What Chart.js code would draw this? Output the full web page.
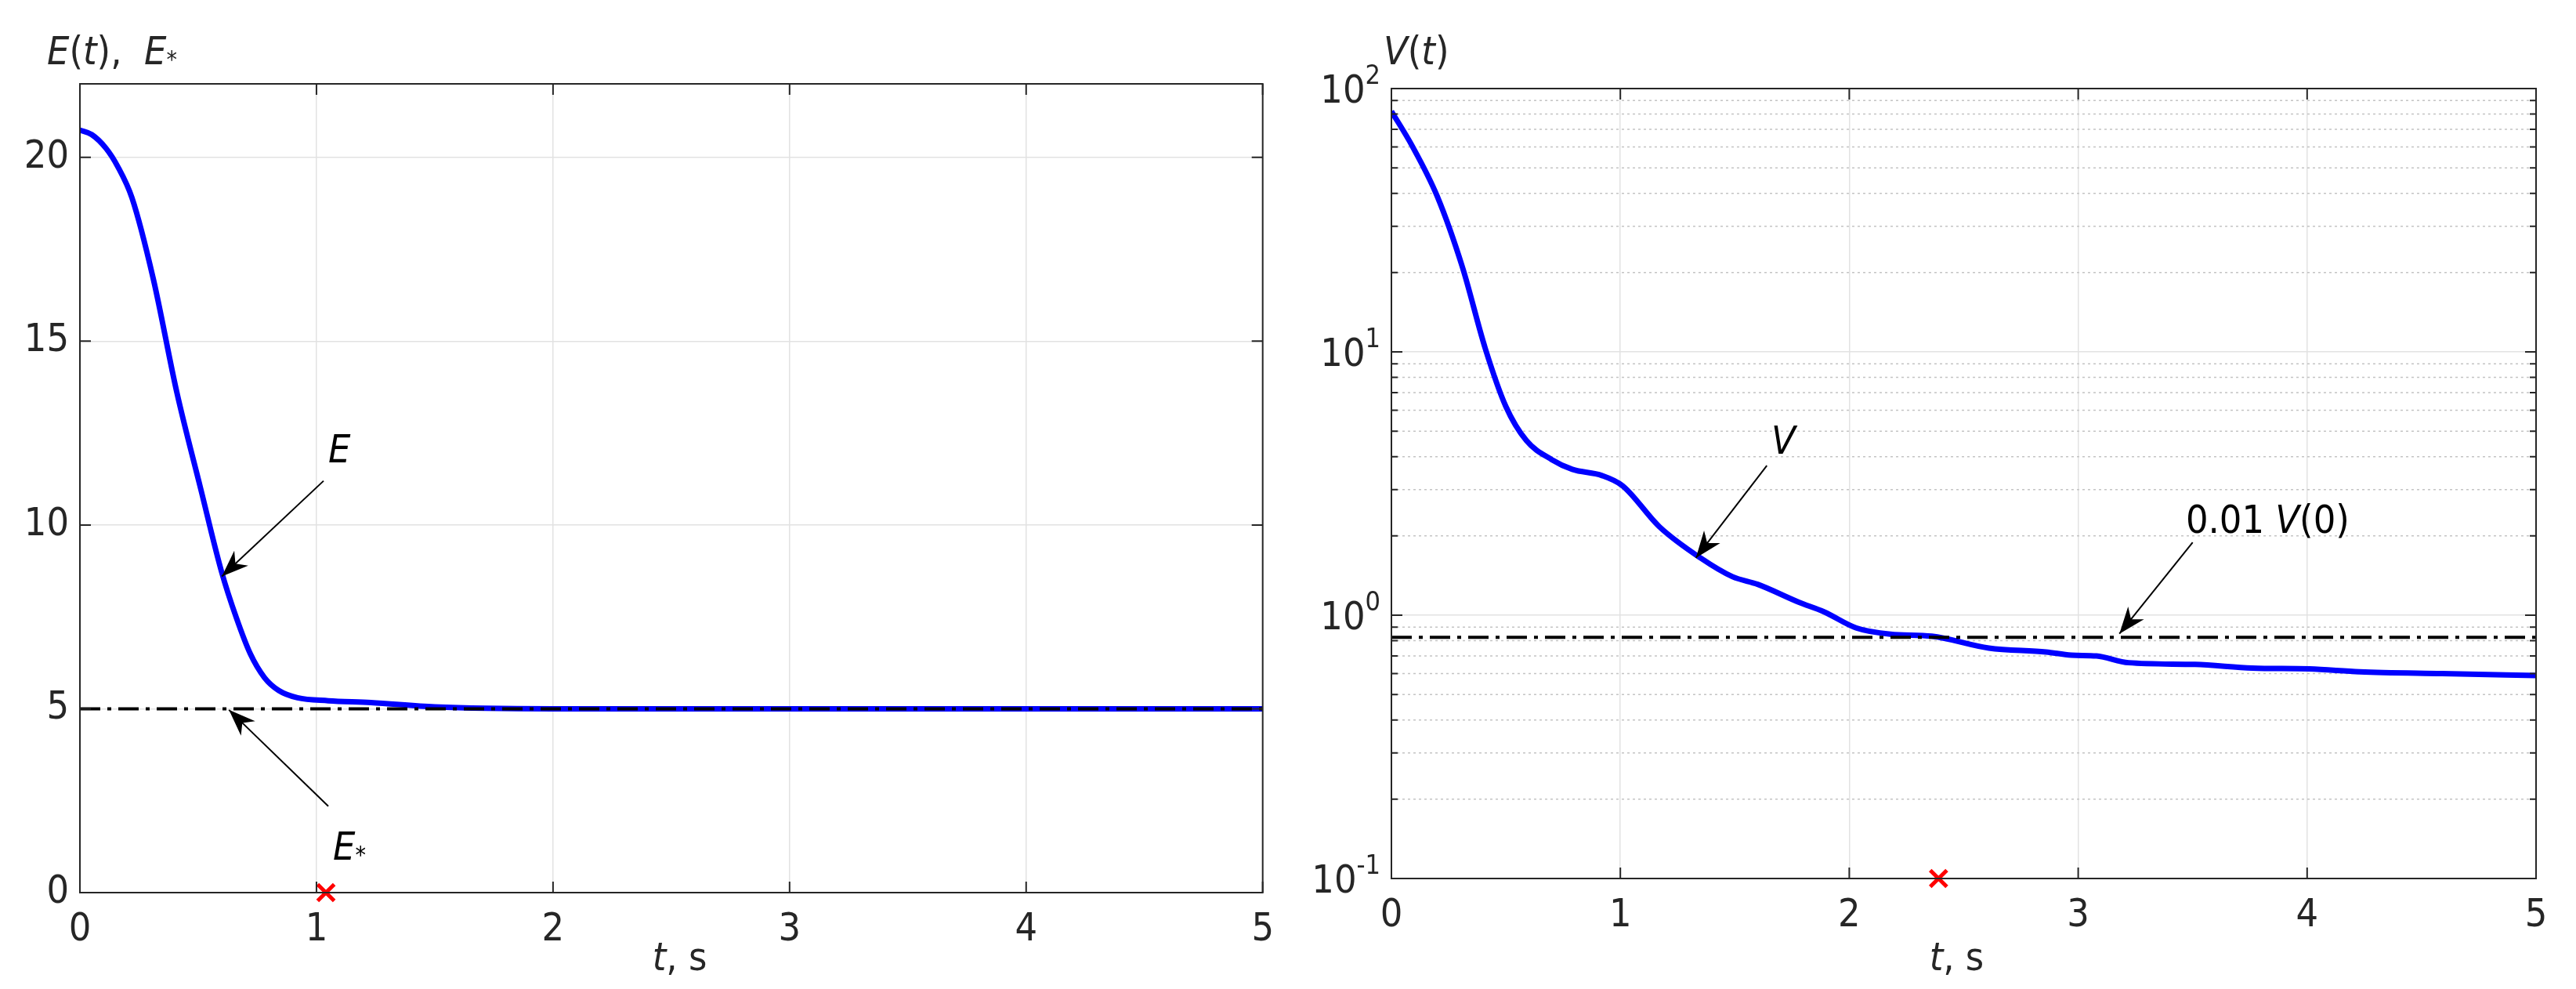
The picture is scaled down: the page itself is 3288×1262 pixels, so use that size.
<!DOCTYPE html>
<html>
<head>
<meta charset="utf-8">
<script src="https://cdn.jsdelivr.net/npm/chart.js@4"></script>
<style>
  body { margin: 0; background: #fff; width: 3288px; height: 1262px; overflow: hidden; }
  .panel { position: absolute; top: 0; width: 1644px; height: 1262px; }
</style>
</head>
<body>
<div class="panel" style="left:0"><canvas id="graficoE"></canvas></div>
<div class="panel" style="left:1644px"><canvas id="graficoV"></canvas></div>
<script>
// Dados
const tempoE = [0, 0.05, 0.11, 0.16, 0.22, 0.31, 0.41, 0.51, 0.6, 0.66, 0.72, 0.78, 0.84, 0.92, 1.05, 1.23, 1.5, 2, 3, 4, 5];
const valoresE = [20.74, 20.62, 20.25, 19.75, 18.9, 16.7, 13.6, 11.0, 8.7, 7.5, 6.5, 5.85, 5.5, 5.3, 5.22, 5.17, 5.05, 5.0, 5.0, 5.0, 5.0];
const eEstrela = 5;
const marcaE = [1.04, 0];

const tempoV = [0, 0.09, 0.2, 0.31, 0.41, 0.5, 0.59, 0.7, 0.79, 0.92, 1.01, 1.17, 1.35, 1.49, 1.6, 1.78, 1.89, 2.03,
  2.18, 2.36, 2.61, 2.86, 2.97, 3.08, 3.22, 3.51, 3.76, 4.01, 4.23, 4.59, 5];
const valoresV = [82, 60.7, 39, 21, 10.3, 6.2, 4.6, 3.9, 3.58, 3.39, 3.1, 2.17, 1.65, 1.4, 1.31, 1.12, 1.03, 0.895,
  0.847, 0.832, 0.75, 0.725, 0.705, 0.70, 0.66, 0.65, 0.63, 0.625, 0.61, 0.6, 0.59];
const limiteV = 0.824;
const marcaV = [2.39, 0.1];

const ticksX = [0, 1, 2, 3, 4, 5];
const ticksE = [0, 5, 10, 15, 20];
const ticksV = [0.1, 1, 10, 100];

const FONTE = '"Liberation Sans Narrow", "DejaVu Sans Condensed", "Liberation Sans", sans-serif';
const COR_TEXTO = '#262626';

function pontos(xs, ys) { return xs.map((x, i) => ({ x: x, y: ys[i] })); }

function seta(ctx, x1, y1, x2, y2) {
  ctx.save();
  ctx.strokeStyle = '#000'; ctx.fillStyle = '#000'; ctx.lineWidth = 2;
  ctx.beginPath(); ctx.moveTo(x1, y1); ctx.lineTo(x2, y2); ctx.stroke();
  const ang = Math.atan2(y2 - y1, x2 - x1);
  const L = 34, W = 13;
  ctx.beginPath();
  ctx.moveTo(x2, y2);
  ctx.lineTo(x2 - L * Math.cos(ang) + W * Math.sin(ang), y2 - L * Math.sin(ang) - W * Math.cos(ang));
  ctx.lineTo(x2 - 0.7 * L * Math.cos(ang), y2 - 0.7 * L * Math.sin(ang));
  ctx.lineTo(x2 - L * Math.cos(ang) - W * Math.sin(ang), y2 - L * Math.sin(ang) + W * Math.cos(ang));
  ctx.closePath(); ctx.fill();
  ctx.restore();
}

// desenha pedaços de texto em sequência: [texto, italico, tamanho, deslocY]
function textoMisto(ctx, x, y, partes) {
  let cx = x;
  partes.forEach(p => {
    ctx.font = (p[1] ? 'italic ' : '') + p[2] + 'px ' + FONTE;
    ctx.fillText(p[0], cx, y + (p[3] || 0));
    cx += ctx.measureText(p[0]).width;
  });
}

function molduraPlugin(opts) {
  return {
    id: 'moldura',
    beforeDatasetsDraw(chart) {
      const { ctx, chartArea: a, scales } = chart;
      ctx.save();
      if (opts.log) {
        ctx.strokeStyle = '#c4c4c4'; ctx.lineWidth = 1.5; ctx.setLineDash([3, 4]);
        for (let d = -1; d < 2; d++) {
          for (let m = 2; m <= 9; m++) {
            const y = scales.y.getPixelForValue(m * Math.pow(10, d));
            ctx.beginPath(); ctx.moveTo(a.left, y); ctx.lineTo(a.right, y); ctx.stroke();
          }
        }
        ctx.setLineDash([]);
      }
      ctx.restore();
    },
    afterDatasetsDraw(chart) {
      const { ctx, chartArea: a, scales } = chart;
      ctx.save();
      ctx.strokeStyle = COR_TEXTO; ctx.lineWidth = 2;
      ctx.strokeRect(a.left, a.top, a.right - a.left, a.bottom - a.top);
      const t = 14;
      ticksX.forEach(v => {
        const x = scales.x.getPixelForValue(v);
        ctx.beginPath(); ctx.moveTo(x, a.bottom); ctx.lineTo(x, a.bottom - t);
        ctx.moveTo(x, a.top); ctx.lineTo(x, a.top + t); ctx.stroke();
      });
      const ys = opts.log ? [] : ticksE;
      if (opts.log) {
        for (let d = -1; d < 2; d++) for (let m = 1; m <= 10; m++) ys.push(m * Math.pow(10, d));
      }
      ys.forEach(v => {
        const y = scales.y.getPixelForValue(v);
        if (y < a.top - 1 || y > a.bottom + 1) return;
        const tt = opts.log && ![0.1, 1, 10, 100].includes(+v.toPrecision(3)) ? 8 : t;
        ctx.beginPath(); ctx.moveTo(a.left, y); ctx.lineTo(a.left + tt, y);
        ctx.moveTo(a.right, y); ctx.lineTo(a.right - tt, y); ctx.stroke();
      });

      ctx.fillStyle = COR_TEXTO; ctx.textBaseline = 'alphabetic'; ctx.textAlign = 'left';
      // rótulos log do eixo y
      if (opts.log) {
        ticksV.forEach(v => {
          const y = scales.y.getPixelForValue(v);
          const e = Math.round(Math.log10(v));
          ctx.font = '50px ' + FONTE;
          const w1 = ctx.measureText('10').width;
          ctx.font = '34px ' + FONTE;
          const w2 = ctx.measureText(String(e)).width;
          const x0 = a.left - 14 - w1 - w2;
          textoMisto(ctx, x0, y + 18, [['10', false, 50], [String(e), false, 34, -24]]);
        });
      }
      // título do eixo x
      ctx.fillStyle = COR_TEXTO;
      textoMisto(ctx, scales.x.getPixelForValue(opts.xTitulo), 1238, [['t', true, 50], [', s', false, 50]]);
      // título do eixo y
      textoMisto(ctx, opts.yTitulo[0], opts.yTitulo[1], opts.yPartes);
      // anotações
      opts.notas.forEach(n => {
        seta(ctx, scales.x.getPixelForValue(n.de[0]), scales.y.getPixelForValue(n.de[1]),
          scales.x.getPixelForValue(n.para[0]), scales.y.getPixelForValue(n.para[1]));
        ctx.fillStyle = '#000';
        textoMisto(ctx, scales.x.getPixelForValue(n.txt[0]), scales.y.getPixelForValue(n.txt[1]), n.partes);
      });
      ctx.restore();
    }
  };
}

function criarGrafico(id, cfg) {
  const el = document.getElementById(id);
  el.width = 1644; el.height = 1262;
  return new Chart(el.getContext('2d'), {
    type: 'scatter',
    data: {
      datasets: [
        { data: cfg.curva, showLine: true, borderColor: '#0000ff', borderWidth: 7, pointRadius: 0,
          cubicInterpolationMode: 'monotone', order: 2 },
        { data: [{ x: 0, y: cfg.ref }, { x: 5, y: cfg.ref }], showLine: true, borderColor: '#000',
          borderWidth: 4, borderDash: [26, 9, 5, 9], pointRadius: 0, order: 1 },
        { data: [{ x: cfg.marca[0], y: cfg.marca[1] }], pointStyle: 'crossRot', pointRadius: 15,
          borderColor: '#ff0000', borderWidth: 5, clip: false, order: 0 }
      ]
    },
    options: {
      responsive: false, animation: false, devicePixelRatio: 1,
      layout: { padding: { left: 0, top: cfg.top, right: cfg.right, bottom: 0 } },
      plugins: { legend: { display: false }, tooltip: { enabled: false } },
      scales: {
        x: {
          type: 'linear', min: 0, max: 5,
          afterBuildTicks: s => { s.ticks = ticksX.map(v => ({ value: v })); },
          afterFit: s => { s.height = cfg.bottom; },
          grid: { color: '#e2e2e2', lineWidth: 1.5, drawTicks: false },
          border: { display: false },
          ticks: { font: { size: 50, family: FONTE }, color: COR_TEXTO, padding: 18 }
        },
        y: cfg.yScale
      }
    },
    plugins: [molduraPlugin(cfg.moldura)]
  });
}

criarGrafico('graficoE', {
  curva: pontos(tempoE, valoresE), ref: eEstrela, marca: marcaE,
  top: 107, right: 28, bottom: 123,
  yScale: {
    type: 'linear', min: 0, max: 22,
    afterBuildTicks: s => { s.ticks = ticksE.map(v => ({ value: v })); },
    afterFit: s => { s.width = 102; },
    grid: { color: '#e2e2e2', lineWidth: 1.5, drawTicks: false },
    border: { display: false },
    ticks: { font: { size: 50, family: FONTE }, color: COR_TEXTO, padding: 14 }
  },
  moldura: {
    log: false, xTitulo: 2.42, yTitulo: [60, 82],
    yPartes: [['E', true, 50], ['(', false, 50], ['t', true, 50], ['),  ', false, 50], ['E', true, 50], ['*', false, 30, 4]],
    notas: [
      { de: [1.03, 11.2], para: [0.6, 8.6], txt: [1.05, 11.7], partes: [['E', true, 50]] },
      { de: [1.05, 2.35], para: [0.63, 4.97], txt: [1.07, 0.9], partes: [['E', true, 50], ['*', false, 30, 4]] }
    ]
  }
});

criarGrafico('graficoV', {
  curva: pontos(tempoV, valoresV), ref: limiteV, marca: marcaV,
  top: 113, right: 51, bottom: 141,
  yScale: {
    type: 'logarithmic', min: 0.1, max: 100,
    afterBuildTicks: s => { s.ticks = ticksV.map(v => ({ value: v })); },
    afterFit: s => { s.width = 132; },
    grid: { color: '#e2e2e2', lineWidth: 1.5, drawTicks: false },
    border: { display: false },
    ticks: { callback: () => '', font: { size: 50, family: FONTE } }
  },
  moldura: {
    log: true, xTitulo: 2.35, yTitulo: [122, 82],
    yPartes: [['V', true, 50], ['(', false, 50], ['t', true, 50], [')', false, 50]],
    notas: [
      { de: [1.64, 3.7], para: [1.33, 1.65], txt: [1.66, 4.1], partes: [['V', true, 50]] },
      { de: [3.5, 1.89], para: [3.18, 0.85], txt: [3.47, 2.05], partes: [['0.01', false, 50], [' V', true, 50], ['(0)', false, 50]] }
    ]
  }
});
</script>
</body>
</html>
